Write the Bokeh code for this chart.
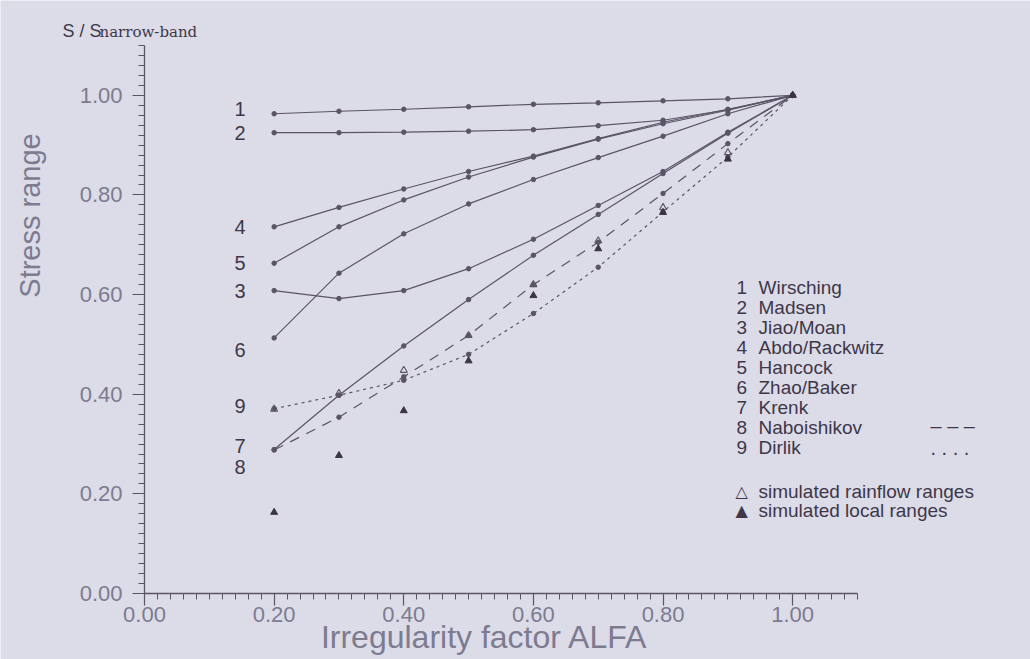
from bokeh.plotting import figure
from bokeh.models import Range1d, FixedTicker, PrintfTickFormatter, Label, ColumnDataSource
from bokeh.core.properties import value
from bokeh.embed import file_html
from bokeh.resources import INLINE

# ---------------- data ----------------
alfa = [0.2, 0.3, 0.4, 0.5, 0.6, 0.7, 0.8, 0.9, 1.0]
wirsching = [0.963, 0.968, 0.972, 0.977, 0.982, 0.985, 0.989, 0.993, 1.0]
madsen = [0.925, 0.925, 0.926, 0.928, 0.931, 0.939, 0.950, 0.971, 1.0]
jiao_moan = [0.608, 0.592, 0.608, 0.652, 0.711, 0.779, 0.847, 0.926, 1.0]
abdo_rackwitz = [0.736, 0.775, 0.812, 0.847, 0.878, 0.913, 0.946, 0.972, 1.0]
hancock = [0.663, 0.736, 0.790, 0.836, 0.876, 0.912, 0.943, 0.970, 1.0]
zhao_baker = [0.513, 0.643, 0.722, 0.782, 0.831, 0.875, 0.918, 0.963, 1.0]
krenk = [0.289, 0.398, 0.497, 0.590, 0.679, 0.761, 0.843, 0.924, 1.0]
naboishikov = [0.288, 0.354, 0.435, 0.518, 0.620, 0.705, 0.803, 0.903, 1.0]
dirlik = [0.371, 0.398, 0.428, 0.480, 0.562, 0.655, 0.766, 0.876, 1.0]
sim_rainflow = [0.370, 0.402, 0.448, 0.518, 0.620, 0.708, 0.775, 0.885, 1.0]
sim_local = [0.163, 0.277, 0.367, 0.467, 0.598, 0.692, 0.765, 0.872, 1.0]

method_names = ["Wirsching", "Madsen", "Jiao/Moan", "Abdo/Rackwitz", "Hancock",
                "Zhao/Baker", "Krenk", "Naboishikov", "Dirlik"]
method_numbers = ["1", "2", "3", "4", "5", "6", "7", "8", "9"]
marker_names = ["simulated rainflow ranges", "simulated local ranges"]
marker_symbols = ["\u25b3", "\u25b2"]

x_ticks = [0.0, 0.2, 0.4, 0.6, 0.8, 1.0]
y_ticks = [0.0, 0.2, 0.4, 0.6, 0.8, 1.0]
minor = [i / 50 for i in range(0, 56)]
axis_end = 1.1

series = [wirsching, madsen, jiao_moan, abdo_rackwitz, hancock, zhao_baker,
          krenk, naboishikov, dirlik]
dashes = ["solid"] * 7 + ["10 8", "3 4"]
# label nudges (pixels) for the curve numbers at the left end
num_dy = [-5, 0, 0, 0, 0, 12, -4, 17, -3]

# ---------------- styling ----------------
BG = "#dcdbe8"
INK = "#5a5466"
TXT = "#3e3748"
GREY = "#7d7b90"
FONT = "Liberation Sans"

W, H = 1030, 659
L, B = 144, 593                    # pixel position of the axes origin
PX_X = (857 - 144) / axis_end      # pixels per unit on x
PX_Y = (593 - 45) / axis_end       # pixels per unit on y

# the frame covers the whole canvas; the axes sit at a fixed location
p = figure(width=W, height=H, output_backend="svg", toolbar_location=None,
           x_range=Range1d(-L / PX_X, (W - L) / PX_X),
           y_range=Range1d(-(H - B) / PX_Y, B / PX_Y),
           min_border=0,
           background_fill_color=BG, border_fill_color=BG)
p.outline_line_color = None
p.grid.visible = False

for ax, ticks in ((p.xaxis[0], x_ticks), (p.yaxis[0], y_ticks)):
    ax.fixed_location = 0
    ax.bounds = (0, axis_end)
    ax.ticker = FixedTicker(ticks=ticks, minor_ticks=minor)
    ax.formatter = PrintfTickFormatter(format="%.2f")
    ax.axis_line_color = INK
    ax.axis_line_width = 1.3
    ax.major_tick_line_color = INK
    ax.minor_tick_line_color = INK
    ax.major_tick_line_width = 1.2
    ax.minor_tick_line_width = 1.0
    ax.major_tick_in = 0
    ax.minor_tick_in = 0
    ax.major_tick_out = 12
    ax.minor_tick_out = 6
    ax.major_label_text_font = FONT
    ax.major_label_text_font_size = "22px"
    ax.major_label_text_color = GREY
p.xaxis.major_label_standoff = 1
p.yaxis.major_label_standoff = 10

# ---------------- curves ----------------
for ys, dash in zip(series, dashes):
    p.line(alfa, ys, line_color=INK, line_width=1.2, line_dash=dash)
    p.scatter(alfa, ys, size=4.5, marker="circle", fill_color=INK, line_color=INK)

p.scatter(alfa, sim_rainflow, marker="triangle", size=7, fill_color=None,
          line_color=INK, line_width=1.1)
p.scatter(alfa, sim_local, marker="triangle", size=7, fill_color="#3b3444",
          line_color="#3b3444")

# curve numbers
src = ColumnDataSource(dict(x=[alfa[0]] * len(series), y=[s[0] for s in series],
                            t=method_numbers, dy=num_dy))
p.text(x="x", y="y", text="t", y_offset="dy", x_offset=-34, source=src,
       text_align="center", text_baseline="middle", text_font=value(FONT),
       text_font_size="20px", text_color=TXT)

# ---------------- screen-space texts ----------------
def label(px, py, text, size, color=TXT, font=FONT, align="left", base="alphabetic",
          angle=0.0):
    p.add_layout(Label(x=px, y=H - py, x_units="screen", y_units="screen",
                       text=text, text_font=font, text_font_size=size,
                       text_color=color, text_align=align, text_baseline=base,
                       angle=angle))

# legend
for i, (num, name) in enumerate(zip(method_numbers, method_names)):
    base = 287 + 20 * i
    label(736, base, num, "19px")
    label(758, base, name, "19px")
label(930, 287 + 20 * 7 - 2, "\u2013 \u2013 \u2013", "20px")
label(930, 287 + 20 * 8, ". . . .", "20px")
for i, (sym, name) in enumerate(zip(marker_symbols, marker_names)):
    base = 491 + 19 * i
    label(735, base, sym, "16px", font="DejaVu Sans")
    label(758, base, name, "19px")

# axis titles
label(29, 215, "Stress range", "29px", color=GREY, align="center", base="middle",
      angle=1.5707963)
label(484, 636, "Irregularity factor ALFA", "32px", color=GREY, align="center",
      base="middle")
label(62, 30, "S / S", "18px")
label(99, 31, "narrow-band", "15px", font="DejaVu Serif")

open("out.html", "w").write(file_html(p, INLINE))
